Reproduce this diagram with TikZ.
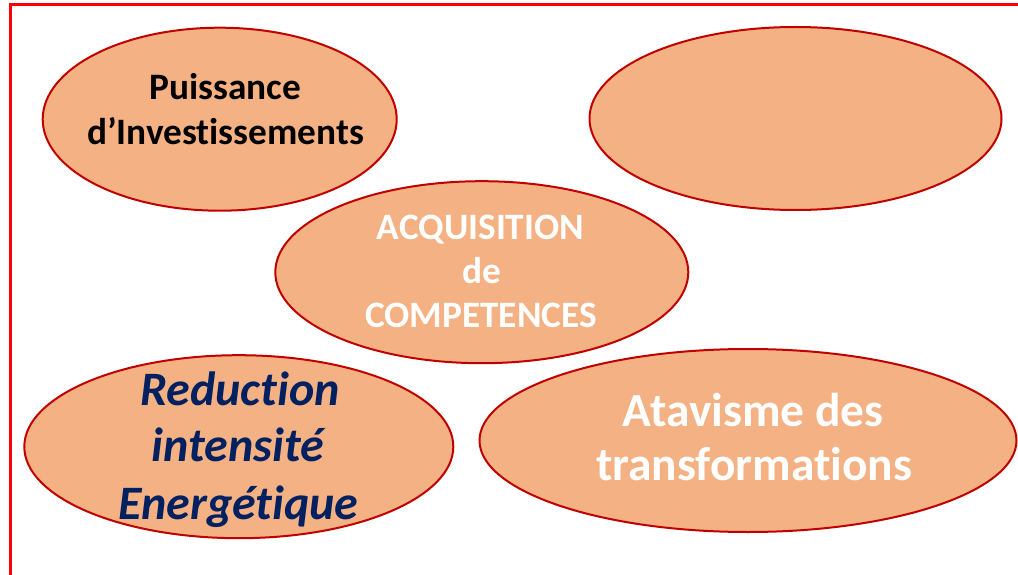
\documentclass[tikz,border=0pt]{standalone}
\usepackage{fontspec}
\setmainfont[Ligatures={NoCommon,NoContextual,NoRare}]{Carlito}
\usetikzlibrary{shapes.geometric}
\definecolor{fillor}{HTML}{F4B183}
\definecolor{edgered}{HTML}{C00000}
\definecolor{navyblue}{HTML}{002060}
\begin{document}
\begin{tikzpicture}[x=1pt,y=-1pt,
  bubble/.style={ellipse, draw=edgered, line width=2pt, fill=fillor, inner sep=0pt},
  lbl/.style={anchor=base, inner sep=0pt},
  smallbold/.style={lbl, font=\fontsize{37.3}{44}\selectfont\bfseries},
  bigwhite/.style={lbl, text=white, font=\fontsize{47.5}{56}\selectfont\bfseries},
  bignavy/.style={lbl, text=navyblue, font=\fontsize{48}{57}\selectfont\bfseries\itshape}]
\useasboundingbox (0,0) rectangle (1018,575);
\begin{scope}
  \clip (0,0) rectangle (1018,575);
  \draw[red, line width=3pt] (10,4.5) rectangle (1040,600);
\end{scope}
\node[bubble, minimum width=354pt, minimum height=183pt] (e1) at (219.7,119.2) {};
\node[bubble, minimum width=412pt, minimum height=183pt] (e2) at (795.5,118.5) {};
\node[bubble, minimum width=413pt, minimum height=182pt] (e3) at (481.8,272.2) {};
\node[bubble, minimum width=429pt, minimum height=183pt] (e4) at (238.8,446.7) {};
\node[bubble, minimum width=537pt, minimum height=183pt] (e5) at (748,440.5) {};
% texts
\node[smallbold] (t1a) at (225,100) {Puissance};
\node[smallbold] (t1b) at (225.5,145) {d’Investissements};
\node[smallbold, text=white] (t3a) at (480.5,239.3) {ACQUISITION};
\node[smallbold, text=white] (t3b) at (481.7,283.3) {de};
\node[smallbold, text=white] (t3c) at (481,327.3) {COMPETENCES};
\node[bignavy] (t4a) at (240,405) {Reduction};
\node[bignavy] (t4b) at (238,461.7) {intensité};
\node[bignavy] (t4c) at (238.3,519) {Energétique};
\node[bigwhite] (t5a) at (753.3,426.7) {Atavisme des};
\node[bigwhite] (t5b) at (754.2,480) {transformations};
\end{tikzpicture}
\end{document}
